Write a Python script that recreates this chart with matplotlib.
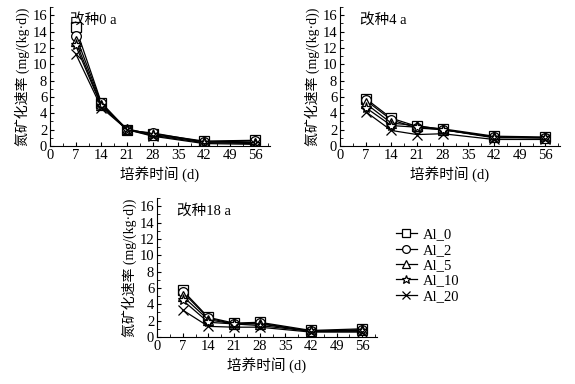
import numpy as np
import matplotlib
matplotlib.use("Agg")
import matplotlib.pyplot as plt
from matplotlib.ticker import MultipleLocator

plt.rcParams["font.family"] = ["Liberation Serif", "Noto Sans CJK SC"]
plt.rcParams["font.size"] = 10.5

days = [7, 14, 21, 28, 42, 56]
series_names = ["Al_0", "Al_2", "Al_5", "Al_10", "Al_20"]
markers = ["s", "o", "^", "*", "x"]

# 改种0 a
rate_0a = [
    [14.5, 5.3, 2.0, 1.5, 0.6, 0.7],
    [13.5, 5.2, 1.9, 1.6, 0.5, 0.6],
    [12.8, 5.0, 2.1, 1.4, 0.5, 0.4],
    [12.3, 4.9, 2.0, 1.3, 0.4, 0.3],
    [11.3, 4.7, 2.0, 1.2, 0.3, 0.2],
]
# 改种4 a
rate_4a = [
    [5.8, 3.4, 2.4, 2.1, 1.2, 1.1],
    [5.6, 3.2, 2.2, 2.0, 1.1, 1.0],
    [5.2, 2.8, 2.5, 2.0, 1.1, 1.0],
    [4.7, 2.5, 2.3, 2.0, 1.0, 1.0],
    [4.2, 1.9, 1.4, 1.5, 0.8, 0.8],
]
# 改种18 a
rate_18a = [
    [5.7, 2.4, 1.7, 1.8, 0.8, 1.0],
    [5.5, 2.3, 1.6, 1.7, 0.7, 0.9],
    [5.0, 2.1, 1.6, 1.6, 0.7, 0.8],
    [4.5, 1.8, 1.6, 1.4, 0.7, 0.7],
    [3.3, 1.3, 1.2, 1.2, 0.6, 0.6],
]

panels = [
    ("改种0 a", rate_0a, [50 / 575, 1 - 146 / 384, 220 / 575, 139 / 384]),
    ("改种4 a", rate_4a, [340 / 575, 1 - 146 / 384, 220 / 575, 139 / 384]),
    ("改种18 a", rate_18a, [157 / 575, 1 - 337 / 384, 220 / 575, 139 / 384]),
]

fig = plt.figure(figsize=(5.75, 3.84), dpi=100)

handles = []
for title, rates, rect in panels:
    ax = fig.add_axes(rect)
    handles = []
    for name, mk, vals in zip(series_names, markers, rates):
        size = 8 if mk == "*" else 7
        (h,) = ax.plot(
            days,
            vals,
            color="black",
            linewidth=0.9,
            marker=mk,
            markersize=size,
            markerfacecolor="white",
            markeredgecolor="black",
            markeredgewidth=0.9,
            label=name,
        )
        handles.append(h)

    ax.set_xlim(0, 60)
    ax.set_ylim(0, 17)
    ax.xaxis.set_major_locator(MultipleLocator(7))
    ax.xaxis.set_minor_locator(MultipleLocator(3.5))
    ax.yaxis.set_major_locator(MultipleLocator(2))
    ax.yaxis.set_minor_locator(MultipleLocator(1))
    ax.tick_params(which="both", direction="in", pad=2, labelsize=10.5)
    ax.tick_params(which="major", length=3)
    ax.tick_params(which="minor", length=2)
    ax.spines["top"].set_visible(False)
    ax.spines["right"].set_visible(False)

    ax.set_xlabel("培养时间 (d)", labelpad=3)
    ax.set_ylabel("氮矿化速率 (mg/(kg·d))", labelpad=2, fontsize=10)
    ax.text(0.09, 0.91, title, transform=ax.transAxes, va="center", ha="left")

fig.legend(
    handles,
    series_names,
    loc="upper left",
    bbox_to_anchor=(383 / 575, 1 - 215 / 384),
    frameon=False,
    handlelength=1.4,
    handletextpad=0.4,
    labelspacing=0.15,
    markerscale=0.8,
    fontsize=10.5,
)

fig.savefig("out.png", dpi=100)
